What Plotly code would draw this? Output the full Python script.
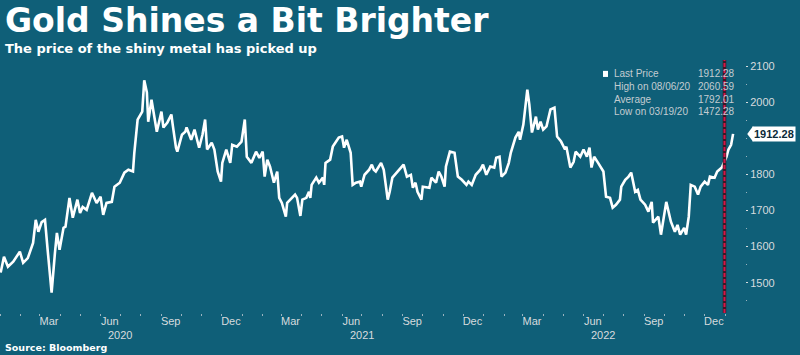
import plotly.graph_objects as go

# ---------------- data ----------------
dates = [
    "2020-01-02", "2020-01-07", "2020-01-13", "2020-01-21", "2020-01-31", "2020-02-05", "2020-02-12",
    "2020-02-20", "2020-02-24", "2020-02-28", "2020-03-04", "2020-03-09", "2020-03-13", "2020-03-16",
    "2020-03-19", "2020-03-24", "2020-03-27", "2020-03-31", "2020-04-06", "2020-04-09", "2020-04-15",
    "2020-04-20", "2020-04-27", "2020-05-01", "2020-05-05", "2020-05-11", "2020-05-19", "2020-05-26",
    "2020-06-01", "2020-06-05", "2020-06-10", "2020-06-18", "2020-06-22", "2020-06-30", "2020-07-07",
    "2020-07-13", "2020-07-20", "2020-07-22", "2020-07-27", "2020-08-03", "2020-08-06", "2020-08-10",
    "2020-08-12", "2020-08-17", "2020-08-25", "2020-09-01", "2020-09-04", "2020-09-10", "2020-09-16",
    "2020-09-18", "2020-09-23", "2020-09-25", "2020-10-02", "2020-10-07", "2020-10-09", "2020-10-16",
    "2020-10-21", "2020-10-28", "2020-11-02", "2020-11-06", "2020-11-09", "2020-11-16", "2020-11-20",
    "2020-11-25", "2020-11-30", "2020-12-02", "2020-12-08", "2020-12-14", "2020-12-17", "2020-12-24",
    "2020-12-31", "2021-01-05", "2021-01-07", "2021-01-08", "2021-01-15", "2021-01-22", "2021-01-27",
    "2021-02-01", "2021-02-04", "2021-02-08", "2021-02-12", "2021-02-18", "2021-02-23", "2021-02-26",
    "2021-03-02", "2021-03-08", "2021-03-10", "2021-03-22", "2021-03-25", "2021-03-30", "2021-04-02",
    "2021-04-08", "2021-04-12", "2021-04-14", "2021-04-16", "2021-04-23", "2021-04-27", "2021-05-03",
    "2021-05-05", "2021-05-07", "2021-05-14", "2021-05-18", "2021-05-27", "2021-06-01", "2021-06-04",
    "2021-06-08", "2021-06-14", "2021-06-17", "2021-06-22", "2021-06-28", "2021-06-30", "2021-07-05",
    "2021-07-12", "2021-07-16", "2021-07-19", "2021-07-22", "2021-07-30", "2021-08-03", "2021-08-09",
    "2021-08-12", "2021-08-16", "2021-08-23", "2021-08-30", "2021-09-02", "2021-09-07", "2021-09-13",
    "2021-09-16", "2021-09-20", "2021-09-23", "2021-09-29", "2021-10-01", "2021-10-11", "2021-10-14",
    "2021-10-21", "2021-10-25", "2021-10-29", "2021-11-03", "2021-11-05", "2021-11-11", "2021-11-18",
    "2021-11-23", "2021-11-29", "2021-12-06", "2021-12-09", "2021-12-14", "2021-12-20", "2021-12-27",
    "2021-12-31", "2022-01-05", "2022-01-11", "2022-01-17", "2022-01-20", "2022-01-25", "2022-01-28",
    "2022-02-03", "2022-02-08", "2022-02-11", "2022-02-18", "2022-02-23", "2022-02-25", "2022-03-02",
    "2022-03-08", "2022-03-11", "2022-03-15", "2022-03-21", "2022-03-24", "2022-03-28", "2022-04-01",
    "2022-04-06", "2022-04-12", "2022-04-18", "2022-04-20", "2022-04-22", "2022-04-28", "2022-05-04",
    "2022-05-06", "2022-05-12", "2022-05-17", "2022-05-20", "2022-05-27", "2022-06-01", "2022-06-06",
    "2022-06-10", "2022-06-13", "2022-06-17", "2022-06-23", "2022-07-01", "2022-07-05", "2022-07-11",
    "2022-07-15", "2022-07-20", "2022-07-26", "2022-07-28", "2022-08-03", "2022-08-08", "2022-08-12",
    "2022-08-18", "2022-08-22", "2022-08-26", "2022-09-02", "2022-09-07", "2022-09-12", "2022-09-14",
    "2022-09-22", "2022-09-26", "2022-10-04", "2022-10-07", "2022-10-11", "2022-10-17", "2022-10-21",
    "2022-10-25", "2022-10-31", "2022-11-03", "2022-11-07", "2022-11-10", "2022-11-16", "2022-11-21",
    "2022-11-25", "2022-12-01", "2022-12-06", "2022-12-09", "2022-12-16", "2022-12-20", "2022-12-27",
    "2023-01-03", "2023-01-06", "2023-01-10", "2023-01-13",
]
prices = [
    1528, 1572, 1544, 1558, 1586, 1555, 1568,
    1610, 1674, 1641, 1668, 1674, 1591, 1535,
    1472.28, 1582, 1638, 1591, 1652, 1655, 1735,
    1680, 1730, 1693, 1710, 1702, 1749, 1721,
    1738, 1688, 1721, 1724, 1766, 1777, 1805,
    1813, 1808, 1860, 1952, 1974, 2060.59, 2027,
    1946, 2007, 1918, 1974, 1930, 1944, 1966,
    1938, 1874, 1863, 1910, 1918, 1930, 1896,
    1924, 1874, 1910, 1952, 1869, 1888, 1869,
    1808, 1780, 1832, 1869, 1832, 1882, 1877,
    1891, 1952, 1896, 1849, 1832, 1863, 1846,
    1863, 1794, 1841, 1822, 1777, 1808, 1735,
    1721, 1683, 1721, 1744, 1735, 1685, 1730,
    1735, 1752, 1735, 1771, 1791, 1777, 1791,
    1771, 1832, 1841, 1877, 1902, 1905, 1874,
    1896, 1860, 1771, 1777, 1780, 1766, 1799,
    1813, 1827, 1813, 1808, 1832, 1813, 1730,
    1752, 1791, 1805, 1819, 1827, 1794, 1799,
    1763, 1777, 1752, 1730, 1766, 1763, 1791,
    1777, 1808, 1794, 1766, 1822, 1863, 1860,
    1794, 1785, 1771, 1780, 1771, 1799, 1813,
    1827, 1799, 1822, 1819, 1846, 1849, 1794,
    1805, 1832, 1860, 1902, 1918, 1896, 1938,
    2035, 1994, 1916, 1960, 1924, 1946, 1924,
    1933, 1980, 1985, 1952, 1905, 1891, 1869,
    1877, 1819, 1835, 1863, 1849, 1869, 1849,
    1874, 1819, 1849, 1832, 1808, 1738, 1735,
    1708, 1716, 1730, 1766, 1785, 1794, 1805,
    1752, 1757, 1730, 1716, 1697, 1724, 1666,
    1683, 1633, 1724, 1702, 1669, 1641, 1660,
    1633, 1652, 1633, 1683, 1771, 1766, 1744,
    1766, 1780, 1771, 1794, 1791, 1808, 1819,
    1849, 1869, 1882, 1912.28,
]

month_tick_dates = ["2020-03-15", "2020-06-15", "2020-09-15", "2020-12-15",
                    "2021-03-15", "2021-06-15", "2021-09-15", "2021-12-15",
                    "2022-03-15", "2022-06-15", "2022-09-15", "2022-12-15"]
month_tick_labels = ["Mar", "Jun", "Sep", "Dec"] * 3
years = ["2020", "2021", "2022"]
y_tick_vals = [1500, 1600, 1700, 1800, 2000, 2100]

stat_labels = ["Last Price", "High on 08/06/20", "Average", "Low on 03/19/20"]
stat_values = ["1912.28", "2060.59", "1792.01", "1472.28"]
last_price = 1912.28
marker_date = "2022-12-31"

title = "Gold Shines a Bit Brighter"
subtitle = "The price of the shiny metal has picked up"
source = "Source: Bloomberg"

# ---------------- style ----------------
BG = "#0f5f78"
TXT = "#d6dbde"
LEG = "#c3ccd1"

fig = go.Figure()
fig.add_trace(go.Scatter(x=dates, y=prices, mode="lines",
                         line=dict(color="white", width=2.6), hoverinfo="skip"))

fig.update_layout(
    width=800, height=355,
    margin=dict(l=0, r=55, t=60, b=42, pad=0),
    paper_bgcolor=BG, plot_bgcolor=BG,
    showlegend=False,
    font=dict(family="Liberation Sans", size=11, color=TXT),
    xaxis=dict(
        type="date", range=["2020-01-01", "2023-01-31"],
        tickvals=month_tick_dates, ticktext=month_tick_labels,
        ticks="", showgrid=False, zeroline=False, showline=False,
        tickfont=dict(family="Liberation Sans", size=11, color=TXT),
        minor=dict(ticks="outside", dtick="M1", tick0="2020-01-01",
                   ticklen=2, tickcolor="#9ab3bf", tickwidth=1, showgrid=False),
    ),
    yaxis=dict(
        side="right", range=[1416, 2117],
        tickvals=y_tick_vals, ticks="outside", ticklen=2, tickcolor=TXT, tickwidth=1,
        showgrid=False, zeroline=False, showline=False,
        tickfont=dict(family="Liberation Sans", size=11, color=TXT),
        minor=dict(ticks="outside", dtick=50, tick0=1450, ticklen=1,
                   tickcolor="#9ab3bf", showgrid=False),
    ),
)

# red dashed marker line
fig.add_shape(type="line", xref="x", yref="paper", x0=marker_date, x1=marker_date,
              y0=0, y1=1, line=dict(color="#3a1a26", width=3.5), layer="above")
fig.add_shape(type="line", xref="x", yref="paper", x0=marker_date, x1=marker_date,
              y0=0, y1=1, line=dict(color="#d3174a", width=2, dash="4px,2px"), layer="above")

# last price tag
fig.add_shape(type="path", xref="paper", yref="y",
              path=f"M 1.003,{last_price} L 1.011,{last_price + 22} L 1.011,{last_price - 22} Z",
              fillcolor="white", line=dict(width=0))
fig.add_annotation(x=1.010, xref="paper", y=last_price, yref="y", xanchor="left",
                   text=f"<b>{last_price:.2f}</b>", showarrow=False,
                   bgcolor="white", borderpad=1,
                   font=dict(family="Liberation Sans", size=11, color="#0b2a38"))

# stats legend
fig.add_shape(type="rect", xref="paper", yref="paper",
              x0=0.8094, x1=0.8161, y0=0.933, y1=0.957,
              fillcolor="white", line=dict(width=0))
row_y = [0.9447, 0.8945, 0.8447, 0.7945]
for lab, val, yy in zip(stat_labels, stat_values, row_y):
    fig.add_annotation(x=0.8215, y=yy, xref="paper", yref="paper", xanchor="left",
                       yanchor="middle", text=lab, showarrow=False,
                       font=dict(family="Liberation Sans", size=10, color=LEG))
    fig.add_annotation(x=0.9895, y=yy, xref="paper", yref="paper", xanchor="right",
                       yanchor="middle", text=val, showarrow=False,
                       font=dict(family="Liberation Sans", size=10, color=LEG))

# year labels
for yr in years:
    fig.add_annotation(x=f"{yr}-07-01", xref="x", y=-0.085, yref="paper",
                       yanchor="middle", text=yr, showarrow=False,
                       font=dict(family="Liberation Sans", size=11, color=TXT))

# titles
fig.add_annotation(x=0.004, y=1.158, xref="paper", yref="paper", xanchor="left",
                   yanchor="middle", text=f"<b>{title}</b>", showarrow=False,
                   font=dict(family="DejaVu Sans", size=33, color="white"))
fig.add_annotation(x=0.004, y=1.047, xref="paper", yref="paper", xanchor="left",
                   yanchor="middle", text=f"<b>{subtitle}</b>", showarrow=False,
                   font=dict(family="DejaVu Sans", size=13, color="white"))
fig.add_annotation(x=0.004, y=-0.137, xref="paper", yref="paper", xanchor="left",
                   yanchor="middle", text=f"<b>{source}</b>", showarrow=False,
                   font=dict(family="DejaVu Sans", size=9.5, color="white"))

fig.write_html("out.html", config={"displayModeBar": False},
               post_script="document.body.style.margin='0';")
